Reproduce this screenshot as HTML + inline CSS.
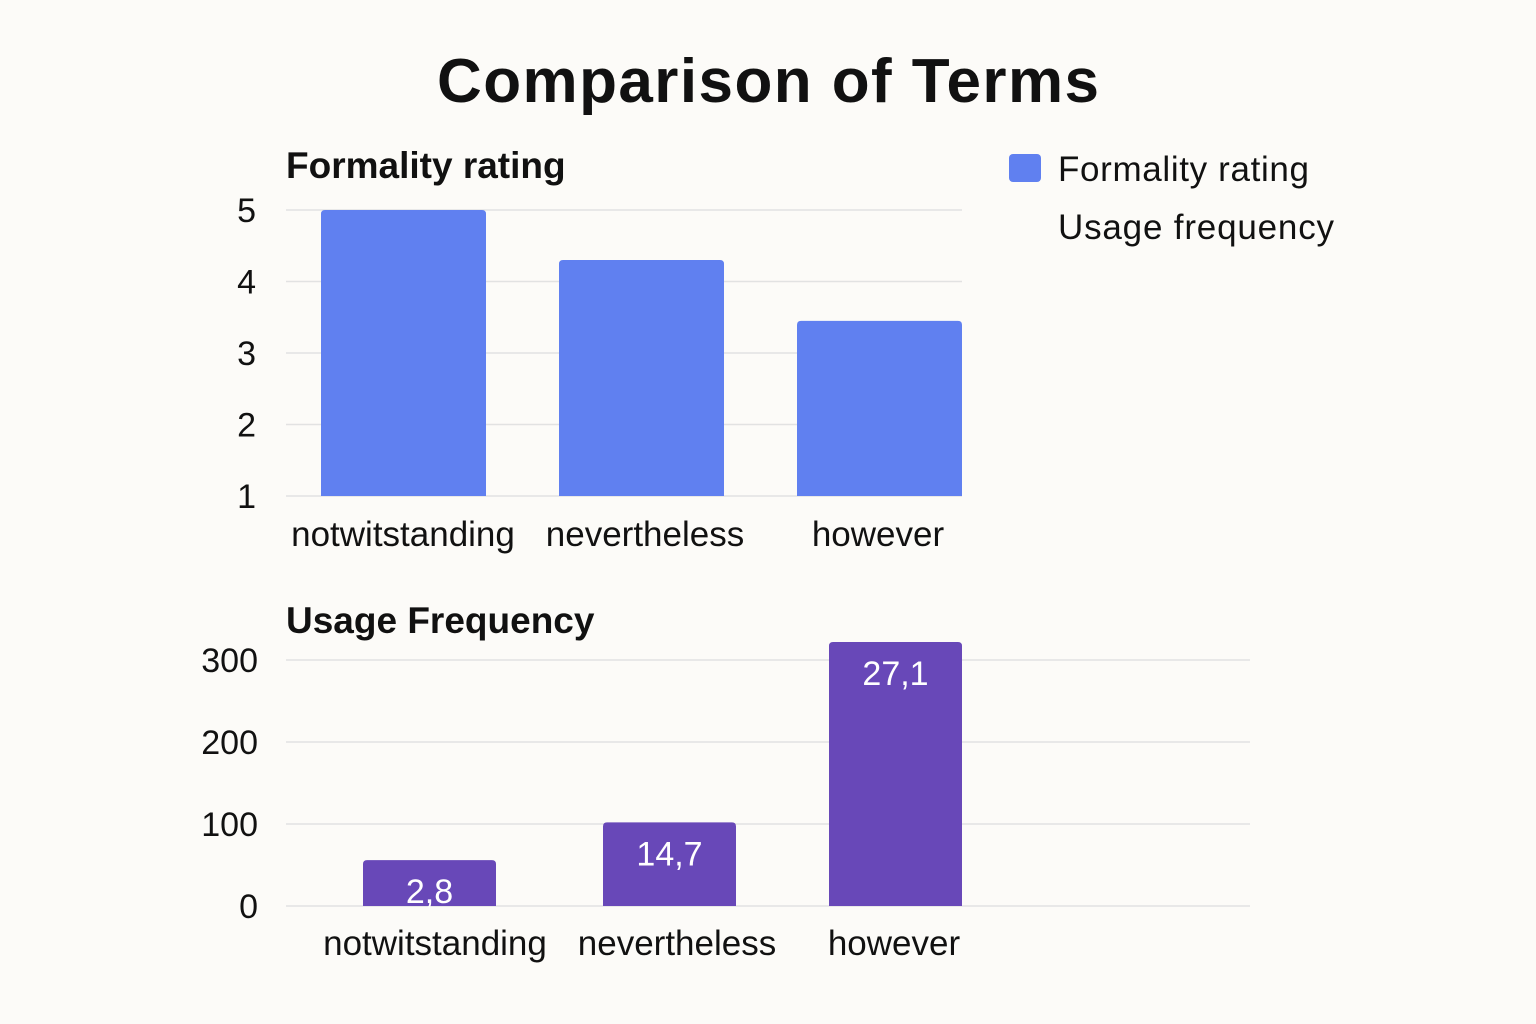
<!DOCTYPE html>
<html><head><meta charset="utf-8"><style>
html,body{margin:0;padding:0;background:#fcfbf8;}
svg{display:block;font-family:"Liberation Sans",sans-serif;}
</style></head><body>
<svg id="chart" width="1536" height="1024" viewBox="0 0 1536 1024">
<rect width="1536" height="1024" fill="#fcfbf8"/>
<text x="768" y="102" text-anchor="middle" font-size="62" font-weight="bold" fill="#111" textLength="662">Comparison of Terms</text>
<text x="286" y="178" font-size="37" font-weight="bold" fill="#111">Formality rating</text>
<text x="286" y="633" font-size="37" font-weight="bold" fill="#111">Usage Frequency</text>
<rect x="1009" y="154" width="32" height="28" rx="4" fill="#6080f0"/>
<text x="1058" y="181" font-size="35" fill="#111" textLength="251">Formality rating</text>
<text x="1058" y="239" font-size="35" fill="#111" textLength="276">Usage frequency</text>
<g id="topChart"></g><g id="bottomChart"></g>
</svg>
<script>
const categories = ["notwitstanding","nevertheless","however"];
const formalityValues = [5.0, 4.3, 3.45];
const formalityTicks = [1,2,3,4,5];
const usageValues = [56, 102, 322];
const usageLabels = ["2,8","14,7","27,1"];
const usageTicks = [0,100,200,300];
const NS = "http://www.w3.org/2000/svg";
function mk(tag, attrs, parent, text){const e=document.createElementNS(NS,tag);for(const k in attrs)e.setAttribute(k,attrs[k]);if(text!==undefined)e.textContent=text;parent.appendChild(e);return e;}
const topG = document.getElementById('topChart');
const yTop = v => 496 - (v-1)*71.5;
formalityTicks.forEach(t=>{
  const l=mk('line',{x1:286,x2:962,y1:yTop(t),y2:yTop(t),stroke:'#e2e2e2','stroke-width':1.5},topG);
  
  
  const tx=mk('text',{x:256,y:yTop(t)+12,'text-anchor':'end','font-size':34,fill:'#111'},topG,String(t));
  
  
});
const topBarX=[321,559,797], topBarW=165;
categories.forEach((c,i)=>{
  const y=yTop(formalityValues[i]);
  const b=mk('path',{d:`M${topBarX[i]},496 V${y+4} q0,-4 4,-4 H${topBarX[i]+topBarW-4} q4,0 4,4 V496 Z`,fill:'#6080f0'},topG);
  
  
  const t=mk('text',{x:[403,645,878][i],y:546,'text-anchor':'middle','font-size':35,fill:'#111'},topG,c);
  
  
});
const botG = document.getElementById('bottomChart');
const yBot = v => 906 - v*0.82;
usageTicks.forEach(t=>{
  const l=mk('line',{x1:286,x2:1250,y1:yBot(t),y2:yBot(t),stroke:'#e2e2e2','stroke-width':1.5},botG);
  
  
  const tx=mk('text',{x:258,y:yBot(t)+12,'text-anchor':'end','font-size':34,fill:'#111'},botG,String(t));
  
  
});
const botBarX=[363,603,829], botBarW=133, labelX=[435,677,894];
categories.forEach((c,i)=>{
  const y=yBot(usageValues[i]);
  const b=mk('path',{d:`M${botBarX[i]},906 V${y+4} q0,-4 4,-4 H${botBarX[i]+botBarW-4} q4,0 4,4 V906 Z`,fill:'#6848b8'},botG);
  
  
  const v=mk('text',{x:botBarX[i]+botBarW/2,y:y+43,'text-anchor':'middle','font-size':34,fill:'#fff'},botG,usageLabels[i]);
  
  
  const t=mk('text',{x:labelX[i],y:955,'text-anchor':'middle','font-size':35,fill:'#111'},botG,c);
  
  
});
</script>
</body></html>
